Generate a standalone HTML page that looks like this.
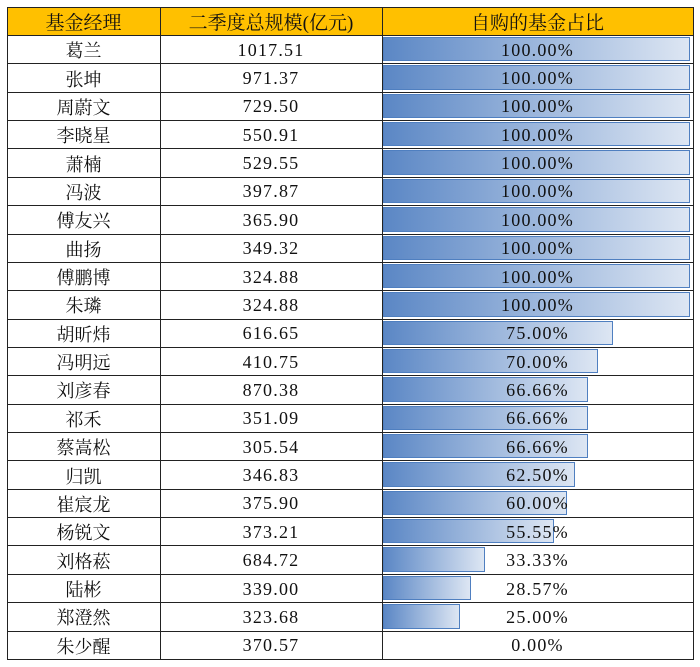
<!DOCTYPE html>
<html><head><meta charset="utf-8"><style>
body{margin:0;width:700px;height:667px;background:#fff;position:relative;overflow:hidden;font-family:"Liberation Serif","Noto Serif CJK SC",serif;}
.c{position:absolute;box-sizing:border-box;text-align:center;font-size:18px;color:#111;display:flex;align-items:center;justify-content:center;padding-top:2px;}
.n{font-size:18px;letter-spacing:1.2px;}
.h{background:#ffc000;}
.b{position:absolute;box-sizing:border-box;background:linear-gradient(to right,#5b87c5,#dde6f3);border:1px solid #4f7fc0;}
.hl{position:absolute;left:7px;width:686px;height:1px;background:#222;}
.vl{position:absolute;top:7px;width:1px;height:653px;background:#222;}
</style></head><body>
<div id="t"></div>
<script>
var rows=[["葛兰","1017.51",100],["张坤","971.37",100],["周蔚文","729.50",100],["李晓星","550.91",100],["萧楠","529.55",100],["冯波","397.87",100],["傅友兴","365.90",100],["曲扬","349.32",100],["傅鹏博","324.88",100],["朱璘","324.88",100],["胡昕炜","616.65",75],["冯明远","410.75",70],["刘彦春","870.38",66.66],["祁禾","351.09",66.66],["蔡嵩松","305.54",66.66],["归凯","346.83",62.5],["崔宸龙","375.90",60],["杨锐文","373.21",55.55],["刘格菘","684.72",33.33],["陆彬","339.00",28.57],["郑澄然","323.68",25],["朱少醒","370.57",0]];
var h='';
var x=[7,160,382,693];
var rh=28.36;
h+='<div class="c h" style="left:7px;top:7px;width:686px;height:28px"></div>';
var hd=["基金经理","二季度总规模(亿元)","自购的基金占比"];
for(var j=0;j<3;j++)h+='<div class="c" style="left:'+x[j]+'px;top:7px;width:'+(x[j+1]-x[j])+'px;height:28px;font-size:19px;padding-top:0">'+hd[j]+'</div>';
for(var i=0;i<rows.length;i++){
 var y=35+i*rh,r=rows[i];
 if(r[2]>0){var w=307*r[2]/100;h+='<div class="b" style="left:383px;top:'+(y+2)+'px;width:'+w+'px;height:'+(rh-4)+'px"></div>';}
 h+='<div class="c" style="left:7px;top:'+y+'px;width:153px;height:'+rh+'px">'+r[0]+'</div>';
 h+='<div class="c n" style="left:160px;top:'+y+'px;width:222px;height:'+rh+'px">'+r[1]+'</div>';
 h+='<div class="c n" style="left:382px;top:'+y+'px;width:311px;height:'+rh+'px">'+r[2].toFixed(2)+'%</div>';
}
for(var i=0;i<=23;i++){var y=i==0?7:Math.round(35+(i-1)*rh);h+='<div class="hl" style="top:'+y+'px"></div>';}
for(var j=0;j<4;j++)h+='<div class="vl" style="left:'+x[j]+'px"></div>';
document.getElementById('t').innerHTML=h;
</script>
</body></html>
